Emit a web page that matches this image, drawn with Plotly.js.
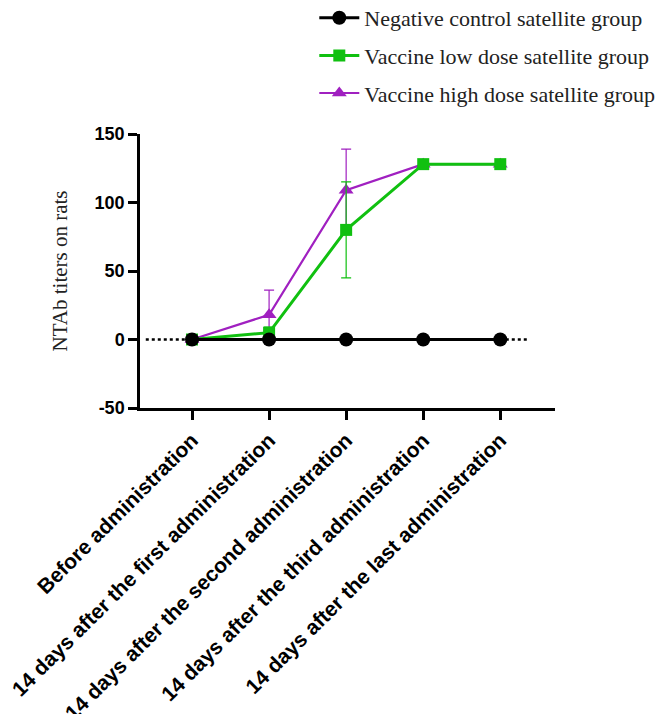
<!DOCTYPE html>
<html><head><meta charset="utf-8">
<script src="https://cdn.plot.ly/plotly-3.0.1.min.js"></script>
<style>html,body{margin:0;padding:0;background:#fff}</style>
</head><body><div id="chart" style="width:663px;height:714px"></div>
<script>
const categories = ["Before administration","14 days after the first administration","14 days after the second administration","14 days after the third administration","14 days after the last administration"];
const negControl = [0,0,0,0,0];
const lowDose = [0,5,80,128,128];
const lowDoseErr = [0,4,35,0,0];
const highDose = [0,18,109,128,128];
const highDoseErr = [0,18,30,0,0];
const yTicks = [-50,0,50,100,150];
const yTickText = ["-50","0","50","100","150"];

const xIdx = categories.map((c,i)=>i);
const traces = [
  {x:xIdx, y:highDose, name:"Vaccine high dose satellite group", mode:"lines+markers", legendrank:3, legendgroup:"c",
   line:{color:"#a020c0", width:2.2}, marker:{symbol:"triangle-up", size:13, color:"#a020c0"},
   error_y:{type:"data", array:highDoseErr, visible:true, color:"#a020c0", thickness:1.2, width:5}},
  {x:xIdx, y:lowDose, name:"Vaccine low dose satellite group", mode:"lines+markers", legendrank:2, legendgroup:"b",
   line:{color:"#10c010", width:3}, marker:{symbol:"square", size:12, color:"#10c010"},
   error_y:{type:"data", array:lowDoseErr, visible:true, color:"#10c010", thickness:1.2, width:5}},
  {x:xIdx, y:negControl, name:"Negative control satellite group", mode:"lines+markers", legendrank:1, legendgroup:"a",
   line:{color:"#000000", width:3}, marker:{symbol:"circle", size:14, color:"#000000"}}
];
const layout = {
  width:663, height:714,
  margin:{l:140, r:108, t:134, b:306, autoexpand:false},
  paper_bgcolor:"#fff", plot_bgcolor:"#fff",
  showlegend:true,
  legend:{x:0.42, y:1.5, xanchor:"left", yanchor:"top", traceorder:"grouped", tracegroupgap:6,
    itemwidth:40,
    font:{family:"Liberation Serif, serif", size:22, color:"#222"}, bgcolor:"rgba(0,0,0,0)"},
  xaxis:{range:[-0.675,4.71], tickmode:"array", tickvals:xIdx, ticktext:categories, tickangle:-45,
    showline:true, linecolor:"#000", linewidth:2.5, ticks:"outside", ticklen:9, tickwidth:2.5, tickcolor:"#000",
    showgrid:false, zeroline:false,
    tickfont:{family:"Liberation Sans, Arial, sans-serif", size:21, color:"#000", weight:"bold"}},
  yaxis:{range:[-50,150], tickmode:"array", tickvals:yTicks, ticktext:yTickText, showline:true, linecolor:"#000", linewidth:2.5,
    ticks:"outside", ticklen:9, tickwidth:2.5, tickcolor:"#000", showgrid:false, zeroline:false,
    tickfont:{family:"Liberation Sans, Arial, sans-serif", size:18, color:"#000", weight:"bold"},
    title:{text:"NTAb titers on rats", font:{family:"Liberation Serif, serif", size:21, color:"#222"}, standoff:22}},
  shapes:[{type:"line", xref:"x", yref:"y", x0:-0.6, x1:4.35, y0:0, y1:0,
    line:{color:"#000", width:2.5, dash:"dot"}, layer:"below"}]
};
Plotly.newPlot("chart", traces, layout, {displayModeBar:false});
</script></body></html>
